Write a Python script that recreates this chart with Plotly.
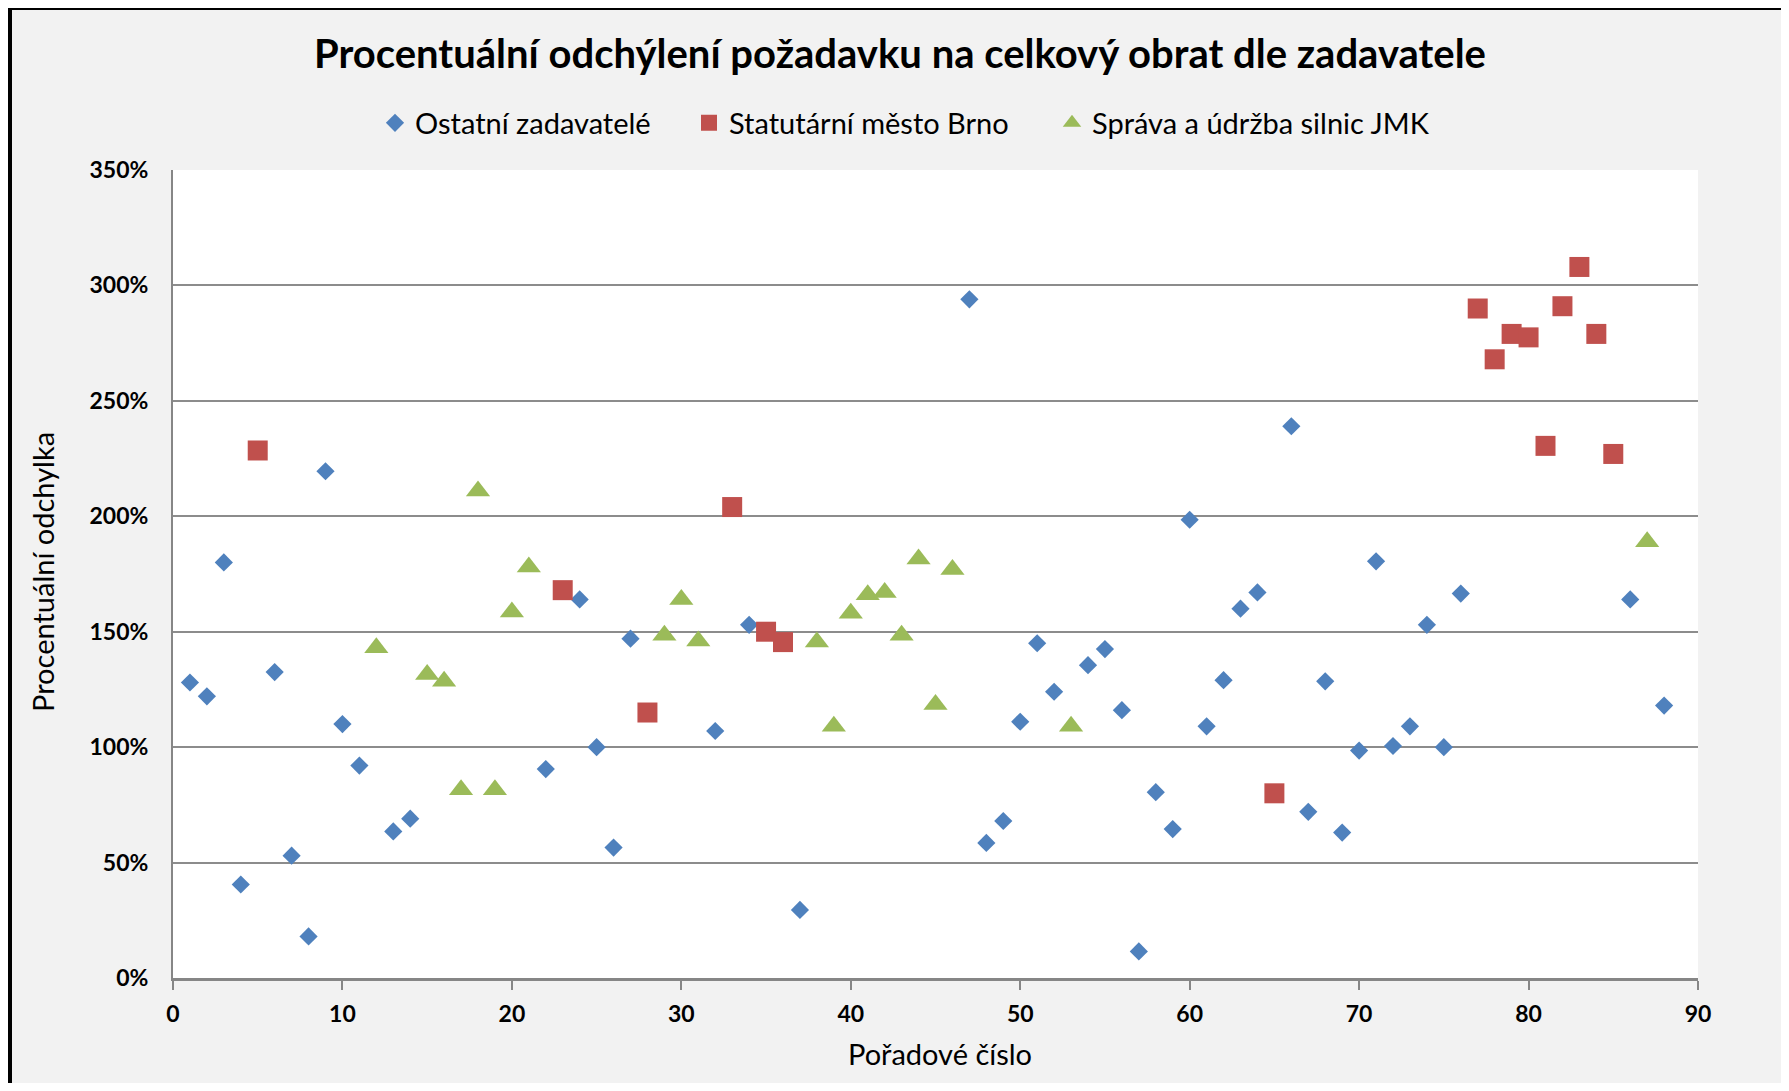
import plotly.graph_objects as go

# ---- data ----
ostatni_x = [1, 2, 3, 4, 6, 7, 8, 9, 10, 11, 13, 14, 22, 24, 25, 26, 27, 32, 34, 37,
             47, 48, 49, 50, 51, 52, 54, 55, 56, 57, 58, 59, 60, 61, 62, 63, 64, 66,
             67, 68, 69, 70, 71, 72, 73, 74, 75, 76, 86, 88]
ostatni_y = [1.28, 1.22, 1.80, 0.405, 1.325, 0.53, 0.18, 2.195, 1.10, 0.92, 0.635, 0.69,
             0.905, 1.64, 1.00, 0.565, 1.47, 1.07, 1.53, 0.295,
             2.94, 0.585, 0.68, 1.11, 1.45, 1.24, 1.355, 1.425, 1.16, 0.115, 0.805,
             0.645, 1.985, 1.09, 1.29, 1.60, 1.67, 2.39,
             0.72, 1.285, 0.63, 0.985, 1.805, 1.005, 1.09, 1.53, 1.00, 1.665, 1.64, 1.18]

brno_x = [5, 23, 28, 33, 35, 36, 65, 77, 78, 79, 80, 81, 82, 83, 84, 85]
brno_y = [2.285, 1.68, 1.15, 2.04, 1.50, 1.455, 0.80, 2.90, 2.68, 2.79, 2.775,
          2.305, 2.91, 3.08, 2.79, 2.27]

sus_x = [12, 15, 16, 17, 18, 19, 20, 21, 29, 30, 31, 38, 39, 40, 41, 42, 43, 44, 45,
         46, 53, 87]
sus_y = [1.43, 1.315, 1.285, 0.815, 2.11, 0.815, 1.585, 1.78, 1.485, 1.64, 1.46,
         1.455, 1.09, 1.58, 1.66, 1.67, 1.485, 1.815, 1.185, 1.77, 1.09, 1.89]

series_names = ["Ostatní zadavatelé", "Statutární město Brno", "Správa a údržba silnic JMK"]

x_ticks = [0, 10, 20, 30, 40, 50, 60, 70, 80, 90]
y_ticks = [0, 0.5, 1.0, 1.5, 2.0, 2.5, 3.0, 3.5]

# ---- layout constants (figure coords; page has an 8px body margin) ----
W, H = 1773, 1075
L, R, T, B = 165, 83, 162, 105
PW, PH = W - L - R, H - T - B

FONT = "Lato"

fig = go.Figure()
fig.add_trace(go.Scatter(x=ostatni_x, y=ostatni_y, mode="markers", name=series_names[0],
                         legend="legend",
                         marker=dict(symbol="diamond", size=14, color="#4f81bd")))
fig.add_trace(go.Scatter(x=brno_x, y=brno_y, mode="markers", name=series_names[1],
                         legend="legend2",
                         marker=dict(symbol="square", size=20, color="#c0504d")))
fig.add_trace(go.Scatter(x=sus_x, y=sus_y, mode="markers", name=series_names[2],
                         legend="legend3",
                         marker=dict(symbol="triangle-up", size=21, color="#9bbb59")))

def px_x(px):
    return (px - L) / PW

def px_y(py):
    return 1 - (py - T) / PH

def leg(left_px):
    return dict(orientation="h", x=px_x(left_px), xanchor="left",
                y=px_y(115), yanchor="middle",
                font=dict(size=29, family=FONT, color="#000000"),
                bgcolor="rgba(0,0,0,0)")

fig.update_layout(
    width=W, height=H,
    margin=dict(l=L, r=R, t=T, b=B),
    paper_bgcolor="#f2f2f2",
    plot_bgcolor="#ffffff",
    font=dict(family=FONT, color="#000000"),
    title=dict(text="<b>Procentuální odchýlení požadavku na celkový obrat dle zadavatele</b>",
               x=892 / W, xanchor="center", xref="container",
               y=1 - 46 / H, yanchor="middle", yref="container",
               font=dict(size=40, family=FONT, color="#000000")),
    legend=leg(367),
    legend2=leg(681),
    legend3=leg(1044),
    showlegend=True,
    xaxis=dict(range=[0, 90], tickvals=x_ticks, ticktext=[str(v) for v in x_ticks],
               showgrid=False, zeroline=False,
               showline=True, linecolor="#868686", linewidth=3,
               ticks="outside", ticklen=9, tickwidth=1.5, tickcolor="#868686",
               ticklabelstandoff=4,
               tickfont=dict(size=23, family=FONT, color="#000000", weight="bold"),
               fixedrange=True),
    yaxis=dict(range=[0, 3.5], tickvals=y_ticks,
               ticktext=["%d%%" % round(v * 100) for v in y_ticks],
               showgrid=True, gridcolor="#8c8c8c", gridwidth=1.5,
               zeroline=False, showline=True, linecolor="#868686", linewidth=2,
               ticks="", ticklabelstandoff=18,
               tickfont=dict(size=23, family=FONT, color="#000000", weight="bold"),
               fixedrange=True),
    annotations=[
        dict(text="Procentuální odchylka", textangle=-90, xref="paper", yref="paper",
             x=px_x(34), y=px_y(564), xanchor="center", yanchor="middle",
             showarrow=False, font=dict(size=29, family=FONT, color="#000000")),
        dict(text="Pořadové číslo", xref="paper", yref="paper",
             x=px_x(932), y=px_y(1045), xanchor="center", yanchor="middle",
             showarrow=False, font=dict(size=29, family=FONT, color="#000000")),
    ],
    shapes=[
        dict(type="line", xref="paper", yref="paper", x0=px_x(2), x1=px_x(2),
             y0=px_y(0), y1=px_y(1200), line=dict(color="#000000", width=4)),
        dict(type="line", xref="paper", yref="paper", x0=px_x(0), x1=px_x(W),
             y0=px_y(1), y1=px_y(1), line=dict(color="#000000", width=2)),
    ],
)

fig.write_html("out.html")
